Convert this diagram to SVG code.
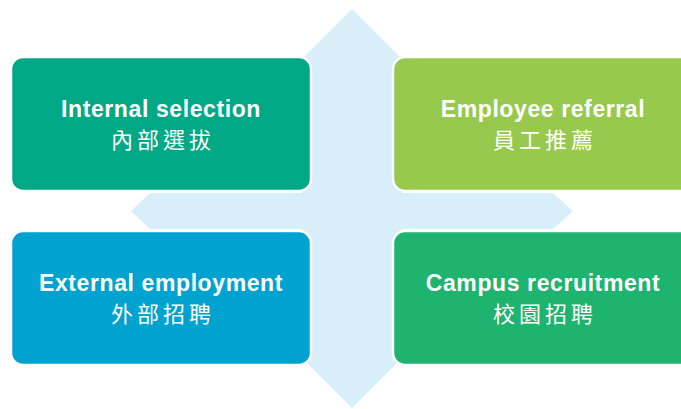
<svg xmlns="http://www.w3.org/2000/svg" width="681" height="409" viewBox="0 0 681 409">
<style>
.box{stroke:#ffffff;stroke-width:2.5}
.en{font-family:"Liberation Sans",Arial,sans-serif;font-weight:bold;font-size:23px;letter-spacing:0.6px;fill:#ffffff;text-anchor:middle}
.zh{font-family:"Noto Sans CJK TC","Noto Sans CJK SC",sans-serif;font-weight:normal;font-size:22px;letter-spacing:4px;fill:#ffffff;text-anchor:middle}
</style>
<rect width="681" height="409" fill="#ffffff"/>
<g id="connectors">
<polygon points="352,9 402,59 402,193 553,193 573,211 553,229 402,229 402,358 352,408 302,358 302,229 150,229 131,211 150,193 302,193 302,59" fill="#d8eff9"/>
</g>
<g id="internal-selection">
<rect class="box" x="11" y="57" width="300" height="134" rx="12" fill="#00a886"/>
<text class="en" x="161" y="117">Internal selection</text>
<text class="zh" x="163" y="148">內部選拔</text>
</g>
<g id="employee-referral">
<rect class="box" x="393" y="57" width="300" height="134" rx="12" fill="#97c94e"/>
<text class="en" x="543" y="117">Employee referral</text>
<text class="zh" x="545" y="148">員工推薦</text>
</g>
<g id="external-employment">
<rect class="box" x="11" y="231" width="300" height="134" rx="12" fill="#00a3d0"/>
<text class="en" x="161" y="291">External employment</text>
<text class="zh" x="163" y="322">外部招聘</text>
</g>
<g id="campus-recruitment">
<rect class="box" x="393" y="231" width="300" height="134" rx="12" fill="#1fb370"/>
<text class="en" x="543" y="291">Campus recruitment</text>
<text class="zh" x="545" y="322">校園招聘</text>
</g>
</svg>
